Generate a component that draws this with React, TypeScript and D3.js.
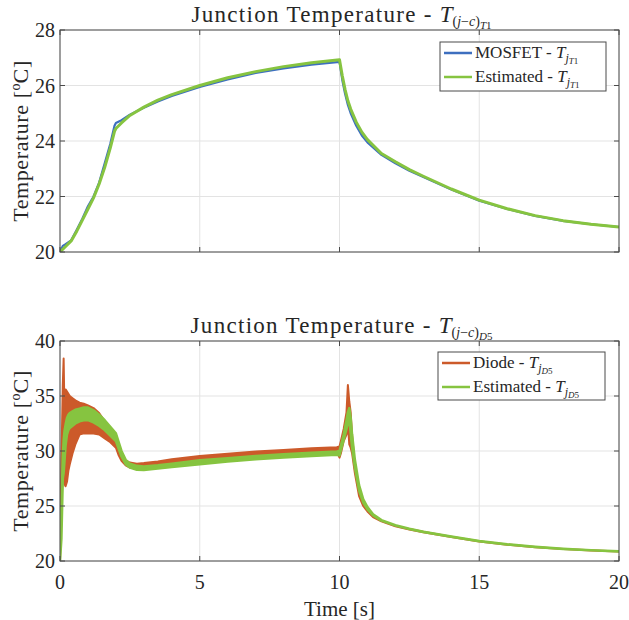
import React from "react";
import * as d3 from "d3";

// ---------- Top plot data (MOSFET T1) ----------
const tTop = [0, 0.1, 0.2, 0.4, 0.6, 0.8, 1.0, 1.2, 1.4, 1.6, 1.8, 1.95, 2.0, 2.2, 2.5, 3, 3.5, 4, 5, 6, 7, 8, 9, 10, 10.1, 10.2, 10.3, 10.4, 10.6, 10.8, 11, 11.5, 12, 12.5, 13, 14, 15, 16, 17, 18, 19, 20];
const mosfetT1 = [20.0, 20.22, 20.28, 20.42, 20.8, 21.2, 21.65, 22.0, 22.5, 23.2, 23.9, 24.55, 24.65, 24.75, 24.95, 25.2, 25.42, 25.62, 25.95, 26.22, 26.45, 26.62, 26.75, 26.85, 26.2, 25.7, 25.3, 25.0, 24.55, 24.2, 23.95, 23.5, 23.2, 22.93, 22.7, 22.25, 21.85, 21.55, 21.3, 21.12, 21.0, 20.9];
const estimatedT1 = [20.0, 20.1, 20.2, 20.4, 20.75, 21.15, 21.55, 21.95, 22.45, 23.05, 23.75, 24.35, 24.45, 24.65, 24.92, 25.22, 25.47, 25.67, 26.0, 26.28, 26.5, 26.68, 26.82, 26.93, 26.35, 25.85, 25.45, 25.15, 24.68, 24.32, 24.05, 23.55, 23.25, 22.97, 22.73, 22.27, 21.87, 21.56, 21.31, 21.13, 21.0, 20.9];

// ---------- Bottom plot data (Diode D5), oscillation envelopes ----------
const tBot = [0, 0.05, 0.1, 0.13, 0.16, 0.2, 0.25, 0.3, 0.35, 0.45, 0.55, 0.7, 0.85, 1.0, 1.2, 1.4, 1.6, 1.8, 2.0, 2.1, 2.2, 2.35, 2.5, 2.75, 3, 3.5, 4, 5, 6, 7, 8, 9, 9.9, 10.0, 10.05, 10.15, 10.25, 10.3, 10.35, 10.4, 10.45, 10.55, 10.7, 10.85, 11, 11.2, 11.5, 12, 12.5, 13, 14, 15, 16, 17, 18, 19, 20];
const diodeHi = [20, 29, 36, 38.4, 33.5, 35.6, 35.4, 35.2, 35.0, 34.8, 34.6, 34.4, 34.3, 34.15, 33.9, 33.45, 32.7, 32.0, 31.2, 30.4, 29.7, 29.15, 28.95, 28.85, 28.9, 29.05, 29.25, 29.55, 29.75, 29.95, 30.1, 30.25, 30.35, 30.4, 30.9, 32.0, 33.5, 36.0, 34.5, 33.5, 31.5, 28.6, 26.3, 25.3, 24.7, 24.1, 23.65, 23.2, 22.9, 22.65, 22.2, 21.8, 21.5, 21.28, 21.1, 20.97, 20.87];
const diodeLo = [20, 24, 29, 28, 27, 26.8, 27.2, 28.2, 28.8, 29.8, 30.6, 31.5, 31.6, 31.6, 31.6, 31.5, 31.15, 30.8, 30.3, 29.6, 29.1, 28.7, 28.5, 28.4, 28.45, 28.6, 28.8, 29.1, 29.35, 29.6, 29.8, 29.95, 30.0, 29.4, 29.8, 30.9, 31.5, 32.5, 30.6, 30.3, 29.8, 28.0, 25.9, 25.0, 24.5, 24.0, 23.6, 23.15, 22.87, 22.62, 22.18, 21.78, 21.48, 21.26, 21.09, 20.96, 20.86];
const estD5Hi = [20, 25, 29.5, 31, 31.8, 32.4, 33.0, 33.3, 33.45, 33.6, 33.75, 33.85, 33.95, 33.95, 33.7, 33.3, 32.8, 32.2, 31.6, 30.8, 30.0, 29.2, 28.85, 28.65, 28.6, 28.7, 28.85, 29.15, 29.35, 29.55, 29.7, 29.85, 29.95, 30.0, 30.5, 31.5, 32.8, 33.5, 33.9, 33.0, 31.5, 29.2, 26.9, 25.6, 24.9, 24.25, 23.72, 23.25, 22.93, 22.67, 22.22, 21.82, 21.52, 21.29, 21.11, 20.98, 20.88];
const estD5Lo = [20, 22, 27.5, 28, 29, 30.5, 31.5, 31.9, 32.1, 32.3, 32.5, 32.7, 32.8, 32.8, 32.6, 32.3, 31.9, 31.4, 30.9, 30.2, 29.5, 28.8, 28.5, 28.3, 28.28, 28.4, 28.55, 28.8, 29.05, 29.25, 29.4, 29.55, 29.65, 29.6, 30.1, 31.0, 32.0, 32.6, 32.8, 31.6, 30.3, 28.5, 26.4, 25.3, 24.7, 24.15, 23.67, 23.22, 22.9, 22.64, 22.2, 21.8, 21.5, 21.27, 21.1, 20.97, 20.87];

// ---------- Ticks ----------
const xTicks = [0, 5, 10, 15, 20];
const yTicksTop = [20, 22, 24, 26, 28];
const yTicksBot = [20, 25, 30, 35, 40];

const FONT = '"Liberation Serif"';
const TXT = "#262626";
const BLUE = "#3d6fbf";
const GREEN = "#86c440";
const ORANGE = "#cc5a2a";

const X0 = 60, X1 = 619;
const x = d3.scaleLinear().domain([0, 20]).range([X0, X1]);

const fs = (size: number, italic = false, ls = 0): React.CSSProperties => ({
  fontFamily: FONT,
  fontSize: size,
  fontStyle: italic ? "italic" : "normal",
  letterSpacing: ls,
});

type PanelProps = {
  yDomain: [number, number];
  yRange: [number, number];
  yTicks: number[];
  showXLabels: boolean;
  id: string;
  children: any;
  title: React.ReactNode;
  legend: React.ReactNode;
};

function Panel({ yDomain, yRange, yTicks, showXLabels, id, children, title, legend }: PanelProps) {
  const y = d3.scaleLinear().domain(yDomain).range(yRange);
  const top = yRange[1], bot = yRange[0];
  const tl = 5;
  return (
    <g>
      <defs>
        <clipPath id={id}>
          <rect x={X0} y={top} width={X1 - X0} height={bot - top} />
        </clipPath>
      </defs>
      {xTicks.map((t) => (
        <line key={"gx" + t} x1={x(t)} x2={x(t)} y1={top} y2={bot} stroke="#e3e3e3" strokeWidth={1} />
      ))}
      {yTicks.map((v) => (
        <line key={"gy" + v} x1={X0} x2={X1} y1={y(v)} y2={y(v)} stroke="#e3e3e3" strokeWidth={1} />
      ))}
      <g clipPath={`url(#${id})`}>{children(y)}</g>
      <rect x={X0} y={top} width={X1 - X0} height={bot - top} fill="none" stroke="#4a4a4a" strokeWidth={1} />
      {xTicks.map((t) => (
        <g key={"tx" + t}>
          <line x1={x(t)} x2={x(t)} y1={bot} y2={bot - tl} stroke="#4a4a4a" />
          <line x1={x(t)} x2={x(t)} y1={top} y2={top + tl} stroke="#4a4a4a" />
          {showXLabels && (
            <text x={x(t)} y={bot + 28} textAnchor="middle" fill={TXT} style={fs(20)}>
              {t}
            </text>
          )}
        </g>
      ))}
      {yTicks.map((v) => (
        <g key={"ty" + v}>
          <line x1={X0} x2={X0 + tl} y1={y(v)} y2={y(v)} stroke="#4a4a4a" />
          <line x1={X1} x2={X1 - tl} y1={y(v)} y2={y(v)} stroke="#4a4a4a" />
          <text x={X0 - 5} y={y(v) + 7} textAnchor="end" fill={TXT} style={fs(20)}>
            {v}
          </text>
        </g>
      ))}
      <text
        transform={`translate(28,${(top + bot) / 2}) rotate(-90)`}
        textAnchor="middle"
        fill={TXT}
        style={fs(22, false, 0.6)}
      >
        Temperature [<tspan dy={-8} style={fs(14)}>o</tspan>
        <tspan dy={8}>C]</tspan>
      </text>
      {title}
      {legend}
    </g>
  );
}

function TitleText({ yb, sub }: { yb: number; sub: string }) {
  return (
    <text x={(X0 + X1) / 2 + 2} y={yb} textAnchor="middle" fill={TXT} style={fs(23, false, 1.3)}>
      Junction Temperature - <tspan style={fs(23, true, 0)}>T</tspan>
      <tspan style={fs(14, false, 0)} dy={4}>(</tspan>
      <tspan style={fs(14, true, 0)}>j</tspan>
      <tspan style={fs(14, false, 0)}>−</tspan>
      <tspan style={fs(14, true, 0)}>c</tspan>
      <tspan style={fs(14, false, 0)}>)</tspan>
      <tspan style={fs(11, true, 0)} dy={3}>{sub[0]}</tspan>
      <tspan style={fs(11, false, 0)}>{sub.slice(1)}</tspan>
    </text>
  );
}

function LegendEntryText({ label, sub, xx, yy }: { label: string; sub: string; xx: number; yy: number }) {
  return (
    <text x={xx} y={yy} fill={TXT} style={fs(17)}>
      {label} - <tspan style={fs(17, true)}>T</tspan>
      <tspan style={fs(12, true)} dy={4}>j</tspan>
      <tspan style={fs(9, true)} dy={2}>{sub[0]}</tspan>
      <tspan style={fs(9)}>{sub.slice(1)}</tspan>
    </text>
  );
}

function Legend({ x0, y0, w, h, items }: { x0: number; y0: number; w: number; h: number; items: { label: string; sub: string; color: string }[] }) {
  return (
    <g>
      <rect x={x0} y={y0} width={w} height={h} fill="#fff" stroke="#4a4a4a" strokeWidth={1} />
      {items.map((it, i) => {
        const yy = y0 + 11 + i * 24;
        return (
          <g key={it.label}>
            <line x1={x0 + 4} x2={x0 + 32} y1={yy} y2={yy} stroke={it.color} strokeWidth={2.5} />
            <LegendEntryText label={it.label} sub={it.sub} xx={x0 + 35} yy={yy + 5} />
          </g>
        );
      })}
    </g>
  );
}

export default function App() {
  const topRange: [number, number] = [252, 30];
  const botRange: [number, number] = [561, 341];
  return (
    <svg width={629} height={620} style={{ position: "absolute", left: 0, top: 0, background: "#fff" }}>
      <rect width={629} height={620} fill="#fff" />
      <Panel
        id="clipTop"
        yDomain={[20, 28]}
        yRange={topRange}
        yTicks={yTicksTop}
        showXLabels={false}
        title={<TitleText yb={22} sub="T1" />}
        legend={
          <Legend
            x0={440}
            y0={42}
            w={166}
            h={49}
            items={[
              { label: "MOSFET", sub: "T1", color: BLUE },
              { label: "Estimated", sub: "T1", color: GREEN },
            ]}
          />
        }
      >
        {(y: d3.ScaleLinear<number, number>) => {
          const line = (vals: number[]) =>
            d3.line<number>().x((_, i) => x(tTop[i])).y((v) => y(v))(vals) || "";
          return (
            <g>
              <path d={line(mosfetT1)} fill="none" stroke={BLUE} strokeWidth={2.2} strokeLinejoin="round" />
              <path d={line(estimatedT1)} fill="none" stroke={GREEN} strokeWidth={3} strokeLinejoin="round" />
            </g>
          );
        }}
      </Panel>
      <Panel
        id="clipBot"
        yDomain={[20, 40]}
        yRange={botRange}
        yTicks={yTicksBot}
        showXLabels={true}
        title={<TitleText yb={333} sub="D5" />}
        legend={
          <Legend
            x0={438}
            y0={352}
            w={167}
            h={48}
            items={[
              { label: "Diode", sub: "D5", color: ORANGE },
              { label: "Estimated", sub: "D5", color: GREEN },
            ]}
          />
        }
      >
        {(y: d3.ScaleLinear<number, number>) => {
          const band = (lo: number[], hi: number[]) =>
            d3
              .area<number>()
              .x((_, i) => x(tBot[i]))
              .y0((_, i) => y(lo[i]))
              .y1((_, i) => y(hi[i]))(tBot) || "";
          return (
            <g>
              <path d={band(diodeLo, diodeHi)} fill={ORANGE} stroke={ORANGE} strokeWidth={2} strokeLinejoin="round" />
              <path d={band(estD5Lo, estD5Hi)} fill={GREEN} stroke={GREEN} strokeWidth={2.5} strokeLinejoin="round" />
            </g>
          );
        }}
      </Panel>
      <text x={(X0 + X1) / 2} y={616} textAnchor="middle" fill={TXT} style={fs(21)}>
        Time [s]
      </text>
    </svg>
  );
}
